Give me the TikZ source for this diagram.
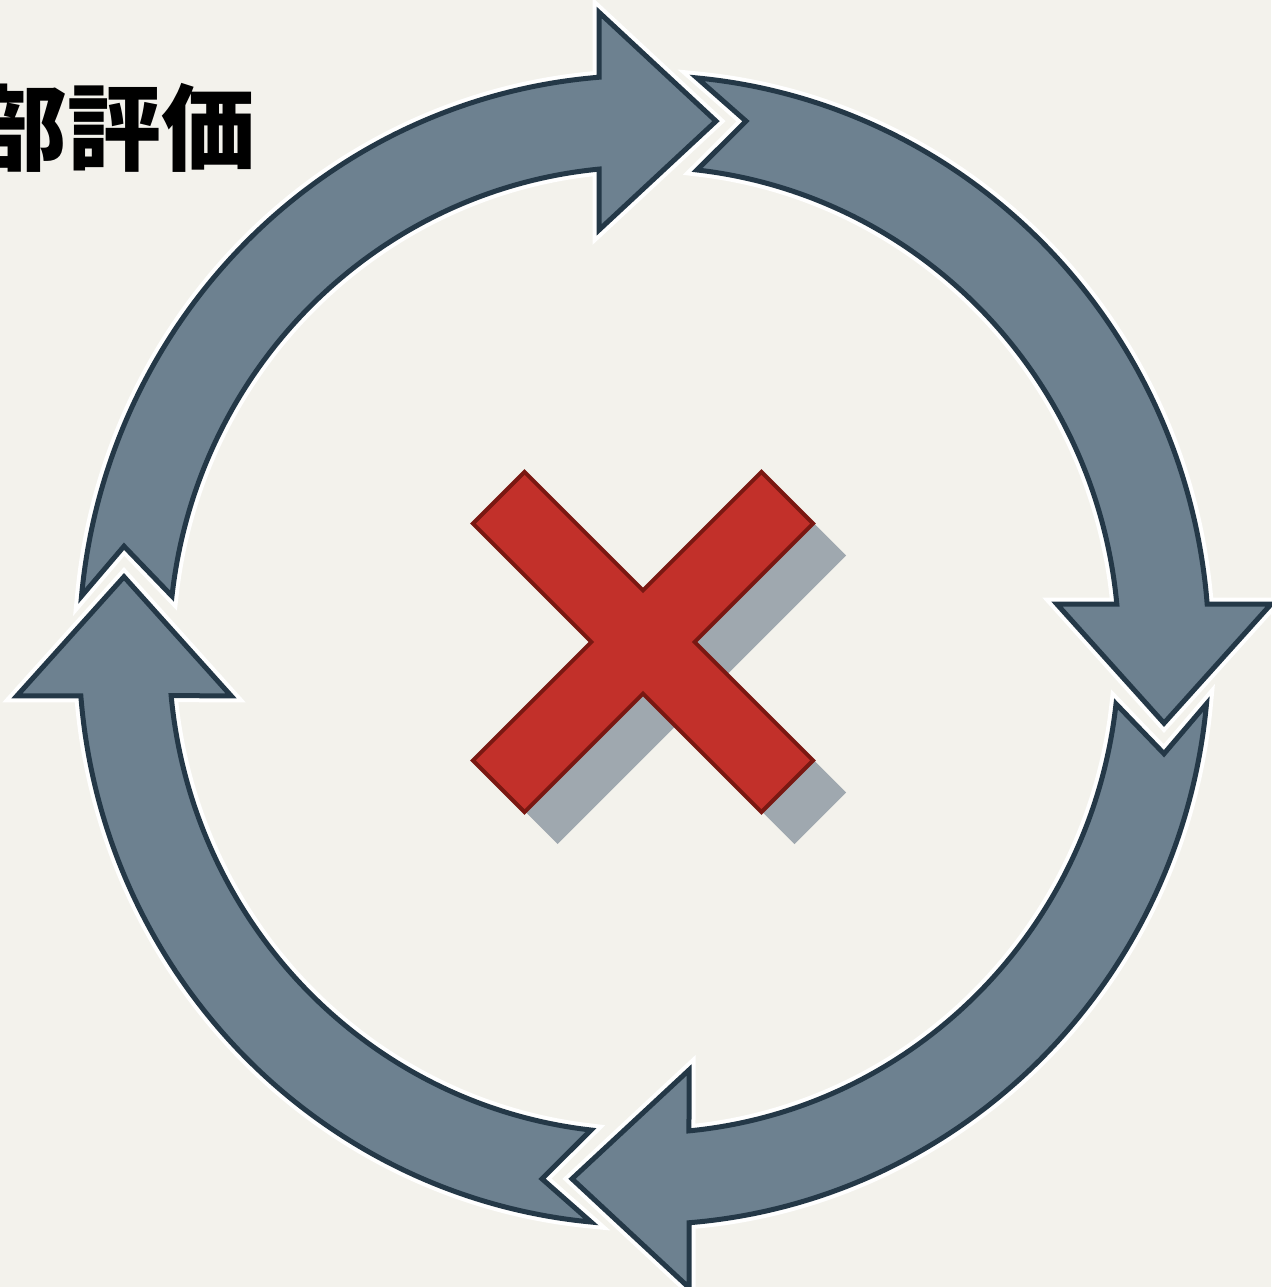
\documentclass[tikz,border=0pt]{standalone}
\usepackage{fontspec}
\newfontfamily\jpfont{Noto Sans CJK JP}
\definecolor{bg}{HTML}{F3F2EC}
\definecolor{arrowfill}{HTML}{6D8190}
\definecolor{arrowline}{HTML}{243847}
\definecolor{xred}{HTML}{C2302A}
\definecolor{xline}{HTML}{7A1812}
\definecolor{xshadow}{HTML}{9FA8AF}
\tikzset{
  ringarrow/.style={fill=arrowfill, draw=arrowline, line width=5pt, line join=miter,
    preaction={draw=white, line width=13pt, line join=miter}},
  crossshape/.style={fill=xred, draw=xline, line width=4pt, line join=miter},
  crossshadow/.style={fill=xshadow},
  titletext/.style={font=\jpfont\bfseries\fontsize{94}{94}\selectfont, inner sep=0pt, text=black}
}
\begin{document}
\begin{tikzpicture}[x=1pt,y=1pt]
\fill[bg] (0,0) rectangle (1271,1287);
\useasboundingbox (0,0) rectangle (1271,1287);

\node[titletext, anchor=center] (title) at (114,1159) {部評価};

% ring of four arrows
\begin{scope}[shift={(644,637)}, yscale=1.017]
  \foreach \r in {0,-90,-180,-270}{
    \begin{scope}[rotate=\r]
      \draw[ringarrow]
        (174.617:565pt) arc[start angle=174.617, end angle=94.568, radius=565pt]
        -- (-45,627) -- (72,520) -- (-45,413)
        -- (95.436:475pt) arc[start angle=95.436, end angle=173.594, radius=475pt]
        -- (-520,102) -- cycle;
    \end{scope}
  }
\end{scope}

% cross shadow
\begin{scope}[shift={(676,613)}, rotate=45]
  \fill[crossshadow] (36.5,36.5) -- (204,36.5) -- (204,-36.5) -- (36.5,-36.5)
    -- (36.5,-204) -- (-36.5,-204) -- (-36.5,-36.5) -- (-204,-36.5)
    -- (-204,36.5) -- (-36.5,36.5) -- (-36.5,204) -- (36.5,204) -- cycle;
\end{scope}
% cross
\begin{scope}[shift={(643,645)}, rotate=45]
  \draw[crossshape] (36.5,36.5) -- (204,36.5) -- (204,-36.5) -- (36.5,-36.5)
    -- (36.5,-204) -- (-36.5,-204) -- (-36.5,-36.5) -- (-204,-36.5)
    -- (-204,36.5) -- (-36.5,36.5) -- (-36.5,204) -- (36.5,204) -- cycle;
\end{scope}
\end{tikzpicture}
\end{document}
